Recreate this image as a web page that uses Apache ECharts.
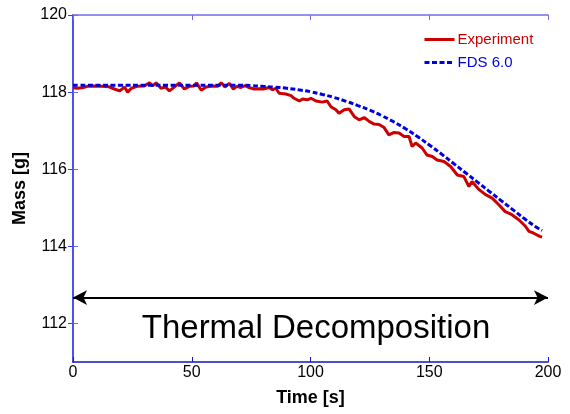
<!DOCTYPE html>
<html>
<head>
<meta charset="utf-8">
<script src="https://cdn.jsdelivr.net/npm/echarts@6/dist/echarts.min.js"></script>
<style>
* { margin: 0; padding: 0; }
body { background: #fff; }
</style>
</head>
<body>
<div id="main" style="width: 570px;height: 414px;"></div>
<script>
// values
var expTime = [0, 1.5, 4, 6, 9, 12, 15, 16.6, 19.6, 21.7, 23, 24.6, 27, 30, 32.2, 33.5, 35, 37, 39, 40.6,
  42.6, 44.8, 46.9, 49, 51, 52, 54, 56, 59, 61, 62.4, 64, 65.8, 67.5, 69, 70.7, 72.5, 74, 76.3, 78.5,
  80, 82.6, 84, 85.4, 86.8, 89.6, 91.8, 93.1, 95.3, 96.7, 98.6, 100.2, 102.3, 105, 107, 108.6, 110.7, 112, 114.2, 116.3,
  118.4, 120.5, 122.6, 124.7, 126.8, 128.9, 131, 133, 135, 137.3, 139.4, 141.5, 142.8, 144.3, 147, 149, 151.3, 153.3, 156.2, 159,
  161.8, 164.6, 166.7, 168, 171, 173.7, 176.5, 179.3, 182, 184.8, 187.7, 190.5, 192, 194, 196.5, 197.5];
var expMass = [118.12, 118.10, 118.11, 118.15, 118.16, 118.15, 118.14, 118.10, 118.03, 118.13, 118.00, 118.10, 118.15, 118.16, 118.24, 118.16, 118.24, 118.10, 118.13, 118.03,
  118.13, 118.24, 118.08, 118.15, 118.16, 118.24, 118.05, 118.13, 118.16, 118.15, 118.24, 118.13, 118.23, 118.08, 118.15, 118.12, 118.17, 118.12, 118.08, 118.09,
  118.08, 118.12, 118.06, 118.10, 117.97, 117.95, 117.91, 117.84, 117.77, 117.82, 117.80, 117.84, 117.77, 117.74, 117.77, 117.62, 117.54, 117.45, 117.54, 117.56,
  117.37, 117.28, 117.34, 117.24, 117.17, 117.16, 117.08, 116.89, 116.95, 116.94, 116.85, 116.85, 116.59, 116.68, 116.55, 116.37, 116.33, 116.24, 116.20, 116.07,
  115.85, 115.81, 115.55, 115.68, 115.47, 115.34, 115.25, 115.08, 114.90, 114.82, 114.69, 114.52, 114.39, 114.34, 114.26, 114.24];

var fdsTime = [0, 10, 20, 30, 40, 50, 60, 70, 75, 80, 85, 90, 95, 100, 105, 110, 115, 120, 125, 130,
  135, 140, 145, 150, 155, 160, 165, 170, 175, 180, 185, 190, 195, 197.5];
var fdsMass = [118.18, 118.18, 118.18, 118.18, 118.18, 118.18, 118.18, 118.18, 118.17, 118.15, 118.13, 118.10, 118.06, 118.01, 117.94, 117.86, 117.76, 117.65, 117.53, 117.39,
  117.23, 117.05, 116.85, 116.63, 116.40, 116.16, 115.92, 115.68, 115.44, 115.20, 114.96, 114.72, 114.50, 114.41];

var yTicks = [112, 114, 116, 118, 120];
var arrowY = 112.67;
var arrowSpan = [0, 200];
var noteText = "Thermal Decomposition";

function pairs(xs, ys) {
  var out = [];
  for (var i = 0; i < xs.length; i++) out.push([xs[i], ys[i]]);
  return out;
}

var font = "Arial, 'Liberation Sans', sans-serif";
var chart = echarts.init(document.getElementById("main"));
chart.setOption({
  animation: false,
  backgroundColor: "#fff",
  grid: { left: 73, right: 22, top: 15, bottom: 52 },
  legend: {
    orient: "vertical",
    left: 423,
    top: 32,
    padding: 0,
    itemWidth: 30,
    itemHeight: 14,
    itemGap: 8,
    itemStyle: { color: "transparent", borderColor: "transparent", borderWidth: 0 },
    lineStyle: { width: 3 },
    textStyle: { fontFamily: font, fontSize: 15, padding: [0, 0, 0, -2] },
    data: [
      { name: "Experiment", textStyle: { color: "#cc0000" } },
      { name: "FDS 6.0", textStyle: { color: "#0000dd" } }
    ]
  },
  xAxis: [{
    type: "value",
    min: 0, max: 200, interval: 50,
    name: "Time [s]",
    nameLocation: "middle",
    nameGap: 27,
    nameTextStyle: { fontFamily: font, fontSize: 18, fontWeight: "bold", color: "#000" },
    axisLine: { lineStyle: { color: "#1515c8", width: 1.5 } },
    axisTick: { inside: true, length: 5, lineStyle: { color: "#1515c8" } },
    axisLabel: { fontFamily: font, fontSize: 16, color: "#000", margin: 3 },
    splitLine: { show: false }
  }, {
    type: "value",
    position: "top",
    min: 0, max: 200, interval: 50,
    axisLine: { lineStyle: { color: "#6f6fe6", width: 1.5 } },
    axisTick: { inside: true, length: 5, lineStyle: { color: "#6f6fe6" } },
    axisLabel: { show: false },
    splitLine: { show: false }
  }],
  yAxis: [{
    type: "value",
    min: 111, max: 120, interval: 1,
    name: "Mass [g]",
    nameLocation: "middle",
    nameGap: 40,
    nameTextStyle: { fontFamily: font, fontSize: 18, fontWeight: "bold", color: "#000" },
    axisLine: { show: true, lineStyle: { color: "#6f6fe6", width: 1.5 } },
    axisTick: { inside: true, length: 5, customValues: yTicks, lineStyle: { color: "#6f6fe6" } },
    axisLabel: { fontFamily: font, fontSize: 16, color: "#000", margin: 6, customValues: yTicks },
    splitLine: { show: false }
  }, {
    type: "value",
    position: "right",
    min: 111, max: 120, interval: 1,
    axisLine: { show: true, lineStyle: { color: "#3a3aee", width: 1.5 } },
    axisTick: { inside: true, length: 5, customValues: yTicks, lineStyle: { color: "#3a3aee" } },
    axisLabel: { show: false },
    splitLine: { show: false }
  }],
  series: [{
    name: "Experiment",
    type: "line",
    data: pairs(expTime, expMass),
    symbol: "none",
    color: "#cc0000",
    lineStyle: { color: "#cc0000", width: 3 },
    z: 3,
    markLine: {
      silent: true,
      symbol: ["arrow", "arrow"],
      symbolSize: [11, 14],
      label: { show: false },
      lineStyle: { color: "#000", width: 2, type: "solid" },
      data: [[{ coord: [arrowSpan[0], arrowY] }, { coord: [arrowSpan[1], arrowY] }]]
    }
  }, {
    name: "FDS 6.0",
    type: "line",
    data: pairs(fdsTime, fdsMass),
    symbol: "none",
    smooth: true,
    color: "#0000dd",
    lineStyle: { color: "#0000dd", width: 3, type: [5, 2.5] },
    z: 4
  }],
  graphic: [{
    type: "text",
    x: 316,
    y: 329,
    style: {
      text: noteText,
      font: "33px Arial, 'Liberation Sans', sans-serif",
      fill: "#000",
      align: "center",
      verticalAlign: "middle"
    }
  }]
});
</script>
</body>
</html>
